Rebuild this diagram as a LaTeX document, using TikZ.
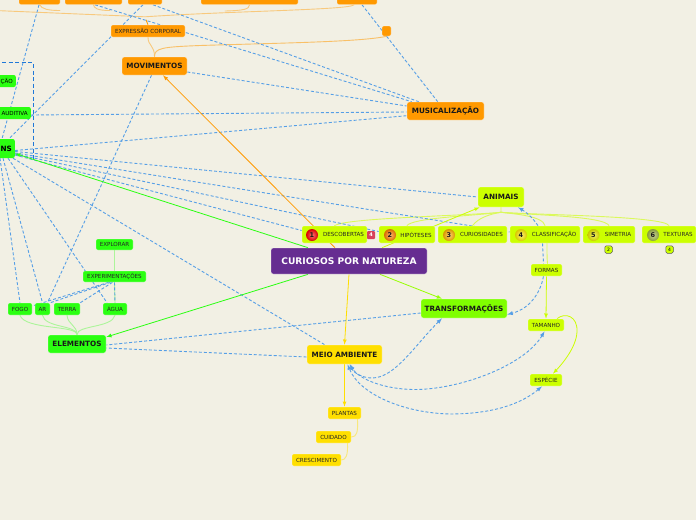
\documentclass[tikz,border=0pt]{standalone}
\usepackage{fontspec}
\setmainfont{DejaVu Sans}
\usetikzlibrary{backgrounds}
\definecolor{paper}{HTML}{F2F0E4}
\definecolor{rootc}{HTML}{662D91}
\definecolor{orangec}{HTML}{FF9900}
\definecolor{limec}{HTML}{CCFF00}
\definecolor{greenc}{HTML}{2BFF11}
\definecolor{transc}{HTML}{80FF00}
\definecolor{yellowc}{HTML}{FFDF00}
\definecolor{linkc}{HTML}{569FE6}
\definecolor{framec}{HTML}{1F78D8}
\definecolor{flagc}{HTML}{D8405C}
\tikzset{
  bigbox/.style={rounded corners=2.5pt, inner sep=0pt, draw=white, draw opacity=0.3, line width=0.6pt, font=\bfseries\fontsize{7.25}{8}\selectfont, text=black!90},
  smallbox/.style={rounded corners=2pt, inner sep=0pt, draw=white, draw opacity=0.3, line width=0.6pt, font=\fontsize{5.6}{6}\selectfont, text=black!85},
  cutbox/.style={anchor=east, text width=40pt, align=right, inner xsep=3pt, inner ysep=0pt, rounded corners=2pt},
  numball/.style={circle, inner sep=0pt, minimum size=12pt, font=\bfseries\fontsize{6.5}{6}\selectfont, text=black!90, inner color=#1!55!white, outer color=#1!85!black},
  dashlink/.style={linkc, line width=0.9pt, dash pattern=on 3pt off 2pt},
  tiplink/.style={dashlink, ->, >=latex},
  mainlink/.style={->, >=latex, line width=0.8pt},
  palelink/.style={line width=0.9pt, line cap=round}
}
\begin{document}
\begin{tikzpicture}[x=1pt,y=-1pt]
  \useasboundingbox (0,0) rectangle (696,520);
  \clip (0,0) rectangle (696,520);
  \node[bigbox, fill=rootc, text=white, font=\bfseries\fontsize{9.1}{10}\selectfont, minimum width=156pt, minimum height=26pt] (root) at (349,261) {CURIOSOS POR NATUREZA};
  \node[bigbox, fill=orangec, minimum width=65pt, minimum height=18pt] (mov) at (154.5,66) {MOVIMENTOS};
  \node[bigbox, fill=orangec, minimum width=77pt, minimum height=18pt] (music) at (445.5,111) {MUSICALIZAÇÃO};
  \node[bigbox, fill=limec, minimum width=46pt, minimum height=20pt] (anim) at (501,197) {ANIMAIS};
  \node[bigbox, fill=transc, minimum width=86pt, minimum height=19pt] (trans) at (464,308.5) {TRANSFORMAÇÕES};
  \node[bigbox, fill=yellowc, minimum width=75pt, minimum height=19pt] (meio) at (344.5,354.5) {MEIO AMBIENTE};
  \node[bigbox, fill=greenc, minimum width=58pt, minimum height=18pt] (elem) at (77,344) {ELEMENTOS};
  \node[cutbox, fill=greenc, font=\bfseries\fontsize{7.25}{8}\selectfont, minimum height=19pt] (ns) at (15,148.5) {NS};
  \node[cutbox, fill=greenc, font=\fontsize{5.6}{6}\selectfont, minimum height=12pt] (aud) at (31,113) {AUDITIVA};
  \node[cutbox, fill=greenc, font=\fontsize{5.6}{6}\selectfont, minimum height=12pt] (cao) at (16,81) {ÇÃO};
  \node[smallbox, fill=orangec, minimum width=74pt, minimum height=12pt] (expr) at (148,31) {EXPRESSÃO CORPORAL};
  \node[smallbox, fill=orangec, minimum width=9pt, minimum height=10pt] (musq) at (386.5,31) {};
  \node[smallbox, fill=orangec, minimum width=41pt, minimum height=12pt] (mova) at (39.5,-1.5) {};
  \node[smallbox, fill=orangec, minimum width=57pt, minimum height=12pt] (movb) at (93.5,-1.5) {};
  \node[smallbox, fill=orangec, minimum width=34pt, minimum height=12pt] (movc) at (145,-1.5) {};
  \node[smallbox, fill=orangec, minimum width=97pt, minimum height=12pt] (movd) at (249.5,-1.5) {};
  \node[smallbox, fill=orangec, minimum width=40pt, minimum height=12pt] (move) at (357,-1.5) {};
  \node[smallbox, fill=limec, minimum width=65pt, minimum height=17pt] (desc) at (334.5,234.5) {\hspace*{18pt}DESCOBERTAS};
  \node[smallbox, fill=limec, minimum width=56pt, minimum height=17pt] (hipo) at (407,234.5) {\hspace*{18pt}HIPÓTESES};
  \node[smallbox, fill=limec, minimum width=69pt, minimum height=17pt] (curi) at (472.5,234.5) {\hspace*{18pt}CURIOSIDADES};
  \node[smallbox, fill=limec, minimum width=70pt, minimum height=17pt] (class) at (545,234.5) {\hspace*{18pt}CLASSIFICAÇÃO};
  \node[smallbox, fill=limec, minimum width=52pt, minimum height=17pt] (sime) at (609,234.5) {\hspace*{18pt}SIMETRIA};
  \node[smallbox, fill=limec, minimum width=54pt, minimum height=17pt] (text) at (669,234.5) {\hspace*{18pt}TEXTURAS};
  \node[numball=red] (ballone) at (312,235) {1};
  \node[numball=orange] (balltwo) at (390,235) {2};
  \node[numball=orange!60!yellow] (ballthree) at (449,235) {3};
  \node[numball=yellow!85!orange] (ballfour) at (521,235) {4};
  \node[numball=yellow!85!olive] (ballfive) at (593.5,235) {5};
  \node[numball=limec!45!gray] (ballsix) at (653,235) {6};
  \node[rounded corners=1pt, fill=flagc, text=white, inner sep=0pt, minimum size=8pt, font=\bfseries\fontsize{5}{5}\selectfont] (flag) at (371,235) {4};
  \node[rounded corners=1.5pt, fill=limec, draw=black!65, line width=0.5pt, inner sep=0pt, minimum size=7.5pt, font=\fontsize{4.5}{5}\selectfont] (badgetwo) at (608.5,249.5) {2};
  \node[rounded corners=1.5pt, fill=limec, draw=black!65, line width=0.5pt, inner sep=0pt, minimum size=7.5pt, font=\fontsize{4.5}{5}\selectfont] (badgefour) at (669.5,249.5) {4};
  \node[smallbox, fill=limec, minimum width=31pt, minimum height=12pt] (formas) at (546.5,270) {FORMAS};
  \node[smallbox, fill=limec, minimum width=36pt, minimum height=12pt] (tam) at (546,325) {TAMANHO};
  \node[smallbox, fill=limec, minimum width=32pt, minimum height=12pt] (esp) at (546,380) {ESPÉCIE};
  \node[smallbox, fill=yellowc, minimum width=33pt, minimum height=12pt] (plant) at (344.5,413) {PLANTAS};
  \node[smallbox, fill=yellowc, minimum width=35pt, minimum height=12pt] (cuid) at (333.5,437) {CUIDADO};
  \node[smallbox, fill=yellowc, minimum width=49pt, minimum height=12pt] (cresc) at (316.5,460) {CRESCIMENTO};
  \node[smallbox, fill=greenc, minimum width=37pt, minimum height=11pt] (expl) at (114.5,244.5) {EXPLORAR};
  \node[smallbox, fill=greenc, minimum width=63pt, minimum height=11pt] (exper) at (114.5,276.5) {EXPERIMENTAÇÕES};
  \node[smallbox, fill=greenc, minimum width=24pt, minimum height=12pt] (fogo) at (20,309) {FOGO};
  \node[smallbox, fill=greenc, minimum width=15pt, minimum height=12pt] (ar) at (42.5,309) {AR};
  \node[smallbox, fill=greenc, minimum width=26pt, minimum height=12pt] (terra) at (67,309) {TERRA};
  \node[smallbox, fill=greenc, minimum width=24pt, minimum height=12pt] (agua) at (115,309) {ÁGUA};
  \coordinate (moveoff) at (-5,10.5);
  \begin{pgfonlayer}{background}
    \fill[paper] (0,0) rectangle (696,520);
    \draw[palelink, orangec!45!paper] (moveoff) -- ([yshift=-12pt]movc.south) .. controls (230,11) and (350,10) .. ([xshift=-3pt]move.south);
    \draw[palelink, orangec!45!paper] (mova.south) .. controls (42,9) and (48,10.5) .. (60,10.5);
    \draw[palelink, orangec!45!paper] (movb.south) .. controls (94,8) and (97,10.5) .. (110,10.5);
    \draw[palelink, orangec!45!paper] (movd.south) .. controls (249,9) and (245,10.5) .. (225,11);
    \draw[line width=0.9pt, orangec] ([xshift=1pt,yshift=-15pt]movc.south) -- (expr.north);
    \draw[palelink, orangec!45!paper] (expr.south) .. controls (148,46) and (154.5,45) .. (mov.north);
    \draw[palelink, orangec!55!paper] (mov.north) .. controls (154.5,48) and (162,47) .. (200,45.5) .. controls (280,43) and (360,42) .. (musq.south);
    \draw[palelink, greenc!35!paper] (expl.south) -- (exper.north);
    \draw[palelink, greenc!35!paper] (exper.south) -- (agua.north);
    \draw[palelink, greenc!35!paper] (elem.north) .. controls (77,325) and (25,330) .. (fogo.south);
    \draw[palelink, greenc!35!paper] (elem.north) .. controls (77,325) and (45,328) .. (ar.south);
    \draw[palelink, greenc!35!paper] (elem.north) .. controls (77,325) and (68,325) .. (terra.south);
    \draw[palelink, greenc!35!paper] (elem.north) .. controls (77,325) and (112,328) .. (agua.south);
    \draw[palelink, yellowc!45!paper] ([xshift=13pt]plant.south) .. controls (358,432) and (357,437) .. (cuid.east);
    \draw[palelink, yellowc!45!paper] ([xshift=14pt]cuid.south) .. controls (348,455) and (346,460) .. (cresc.east);
    \draw[palelink, limec!60!paper] (anim.south) -- ([yshift=-5pt]anim.south) .. controls (460,216) and (345,218) .. (desc.north);
    \draw[palelink, limec!60!paper] ([yshift=-5pt]anim.south) .. controls (470,216) and (412,218) .. (hipo.north);
    \draw[palelink, limec!60!paper] ([yshift=-5pt]anim.south) .. controls (490,214) and (478,218) .. (curi.north);
    \draw[palelink, limec!60!paper] ([yshift=-5pt]anim.south) .. controls (515,214) and (543,216) .. (class.north);
    \draw[palelink, limec!60!paper] ([yshift=-5pt]anim.south) .. controls (530,215) and (605,216) .. (sime.north);
    \draw[palelink, limec!60!paper] ([yshift=-5pt]anim.south) .. controls (540,215) and (665,216) .. (text.north);
    \draw[palelink, limec!60!paper] ([xshift=2pt]class.south) .. controls (547,255) and (547,258) .. ([xshift=1pt]formas.north);
    \draw[dashlink] ([yshift=-2pt]ns.east) -- ([yshift=-4.7pt]music.west);
    \draw[dashlink] ([yshift=-6pt]mov.east) -- ([yshift=5pt]music.west);
    \draw[dashlink] ([yshift=-2pt]aud.east) -- ([yshift=-1pt]music.west);
    \draw[dashlink] ([xshift=-0.5pt]mova.south) -- ([xshift=-13pt]ns.north east);
    \draw[dashlink] ([xshift=-2pt]movc.south) -- ([xshift=-6pt]ns.north east);
    \draw[dashlink] ([xshift=1.5pt]movb.south) -- ([xshift=5pt]music.north west);
    \draw[dashlink] ([xshift=8pt]movc.south) -- ([xshift=12pt]music.north west);
    \draw[dashlink] ([xshift=5pt]move.south) -- ([xshift=31pt]music.north west);
    \draw[dashlink] ([yshift=-3pt]ns.east) -- (anim.west);
    \draw[dashlink] ([yshift=-4.5pt]ns.east) -- ([yshift=2.5pt]class.west);
    \draw[dashlink] ([yshift=-5.5pt]ns.east) -- ([yshift=3pt]hipo.west);
    \draw[dashlink] ([yshift=-6.5pt]ns.east) -- ([yshift=4pt]desc.west);
    \draw[dashlink] ([xshift=-2pt]ns.south east) -- ([xshift=18pt]meio.north west);
    \draw[dashlink] ([xshift=-15pt]ns.south east) -- (fogo.north);
    \draw[dashlink] ([xshift=-12pt]ns.south east) -- (ar.north);
    \draw[dashlink] ([xshift=-7pt]ns.south east) -- ([xshift=-8pt]agua.north);
    \draw[dashlink] ([xshift=-3pt]mov.south) -- ([xshift=5pt]ar.north);
    \draw[dashlink] ([xshift=-4pt]exper.south) -- (ar.north east);
    \draw[dashlink] ([xshift=-6pt]exper.south) -- ([yshift=3pt]fogo.east);
    \draw[dashlink] ([xshift=-2pt]exper.south) -- (terra.north east);
    \draw[dashlink] (exper.south) -- (agua.north);
    \draw[dashlink] ([yshift=-4.5pt]trans.west) -- ([yshift=-1pt]elem.east);
    \draw[dashlink] ([yshift=-2.5pt]meio.west) -- ([yshift=-4pt]elem.east);
    \draw[dashlink] ([xshift=-2.5pt]class.south) -- ([xshift=-3pt]formas.north);
    \draw[tiplink] ([xshift=-7pt]class.north) .. controls (533,218) and (526,212) .. ([xshift=17pt]anim.south);
    \draw[tiplink] ([xshift=-3pt]formas.south) .. controls (541,290) and (532,308) .. ([yshift=-6pt]trans.east);
    \draw[tiplink, <->] ([xshift=-22pt]trans.south) .. controls (415,345) and (395,378) .. (372,378) .. controls (362,378) and (353,372) .. ([xshift=6pt]meio.south);
    \draw[tiplink, <->] ([xshift=-1.5pt]tam.south) .. controls (525,365) and (460,390) .. (413,389.5) .. controls (385,389) and (360,380) .. ([xshift=5pt]meio.south);
    \draw[tiplink, <->] ([xshift=-4pt]esp.south) .. controls (520,405) and (490,414) .. (450,414) .. controls (405,413) and (360,395) .. ([xshift=3pt]meio.south);
    \draw[framec, line width=0.8pt, dash pattern=on 4pt off 2.5pt] (cao.north west |- 0,62.5) -- (33,62.5) -- (33,160);
    \draw[mainlink, orangec] ([xshift=-14pt]root.north) -- ([xshift=8.5pt]mov.south);
    \draw[mainlink, yellowc] (root.south) -- (meio.north);
    \draw[mainlink, yellowc] (meio.south) -- (plant.north);
    \draw[mainlink, transc!70!limec] ([xshift=31pt]root.south) -- ([xshift=-22pt]trans.north);
    \draw[mainlink, limec] ([xshift=33pt]root.north) -- ([xshift=2pt]anim.south west);
    \draw[mainlink, greenc] ([xshift=-41pt]root.south) -- ([yshift=7pt]elem.east);
    \draw[mainlink, greenc] ([xshift=-41pt]root.north) -- ([yshift=-5pt]ns.east);
    \draw[mainlink, limec] (formas.south) -- (tam.north);
    \draw[mainlink, limec] ([xshift=11pt]tam.north) .. controls (565,312) and (578,316) .. (577,332) .. controls (576,348) and (562,364) .. ([xshift=7pt]esp.north);
  \end{pgfonlayer}
\end{tikzpicture}
\end{document}
